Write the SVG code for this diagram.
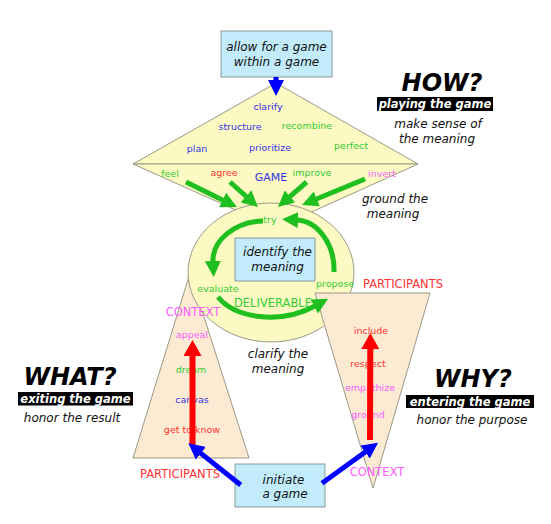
<svg xmlns="http://www.w3.org/2000/svg" width="551" height="524" viewBox="0 0 551 524">
<style>
text{font-family:"DejaVu Sans","Liberation Sans",sans-serif;text-anchor:middle}
.box{fill:#c2ecfb;stroke:#8a9a9a;stroke-width:1}
.shape{fill:#fcf9c2;stroke:#9a9a88;stroke-width:1}
.tri{fill:#fcebd2;stroke:#9a9a88;stroke-width:1}
.it{font-style:italic;font-size:12px;fill:#111}
.s{font-size:9.5px}
.m{font-size:11.5px}
.b{fill:#3333e6}.g{fill:#33cc33}.r{fill:#ff3333}.p{fill:#ff5cff}
.big{font-style:italic;font-weight:bold;font-size:24px;fill:#000}
.tag{font-style:italic;font-weight:bold;font-size:11.5px;fill:#fff}
.ga{fill:none;stroke:#1fbf1f;stroke-width:5;marker-end:url(#hg)}
.ba{fill:none;stroke:#0000ff;stroke-width:5;marker-end:url(#hb)}
.ra{fill:none;stroke:#ff0000;stroke-width:6;marker-end:url(#hr)}
</style>
<defs>
<marker id="hg" markerUnits="userSpaceOnUse" markerWidth="16" markerHeight="16" viewBox="0 0 16 16" refX="1" refY="8" orient="auto"><path d="M0,0 L16,8 L0,16 Z" fill="#1fbf1f"/></marker>
<marker id="hb" markerUnits="userSpaceOnUse" markerWidth="16" markerHeight="16" viewBox="0 0 16 16" refX="1" refY="8" orient="auto"><path d="M0,0 L16,8 L0,16 Z" fill="#0000ff"/></marker>
<marker id="hr" markerUnits="userSpaceOnUse" markerWidth="16" markerHeight="18" viewBox="0 0 16 18" refX="1" refY="9" orient="auto"><path d="M0,0 L16,9 L0,18 Z" fill="#ff0000"/></marker>
</defs>

<g id="game">
<path class="shape" d="M133,164 L276,83 L418,164 Z"/>
<path class="shape" d="M133,164 L276,228 L418,164 Z"/>
<text class="s b" x="268" y="109.5">clarify</text>
<text class="s b" x="240" y="130">structure</text>
<text class="s g" x="307" y="128.7">recombine</text>
<text class="s b" x="197" y="151.7">plan</text>
<text class="s b" x="270" y="150.7">prioritize</text>
<text class="s g" x="351" y="149.4">perfect</text>
<text class="s g" x="170" y="176.7">feel</text>
<text class="s r" x="224" y="176.4">agree</text>
<text class="b" x="271" y="181.2" style="font-size:11px">GAME</text>
<text class="s g" x="312" y="176.4">improve</text>
<text class="s p" x="382" y="177.4">invert</text>
</g>

<g id="what-triangle-shape">
<path class="tri" d="M190,273 L249,458 L133,458 Z"/>
</g>

<g id="deliverable">
<ellipse class="shape" cx="271" cy="272.5" rx="83" ry="69.5"/>
</g>

<g id="what-triangle">
<text class="m p" x="193" y="316.3">CONTEXT</text>
<text class="s p" x="192" y="338.4">appeal</text>
<text class="s g" x="191" y="373.4">dream</text>
<text class="s b" x="192" y="403.4">canvas</text>
<text class="s r" x="192" y="433.4">get to know</text>
<text class="m r" x="180" y="478">PARTICIPANTS</text>
</g>

<g id="why-triangle">
<path class="tri" d="M315,293 L430,293 L373,488 Z"/>
<text class="m r" x="403" y="288">PARTICIPANTS</text>
<text class="s r" x="371" y="334">include</text>
<text class="s r" x="368" y="366.7">respect</text>
<text class="s p" x="370" y="391">empathize</text>
<text class="s p" x="368" y="418.4">ground</text>
<text class="m p" x="377" y="476.3">CONTEXT</text>
</g>

<g id="deliverable-labels">
<text class="s g" x="270" y="223.4">try</text>
<text class="s g" x="218" y="291.7">evaluate</text>
<text class="s g" x="335" y="286.7">propose</text>
<text class="m g" x="273" y="306.7">DELIVERABLE</text>
</g>

<g id="identify">
<rect class="box" x="235" y="238" width="80" height="43"/>
<text class="it" x="277.5" y="256">identify the</text>
<text class="it" x="277.5" y="271">meaning</text>
</g>

<g id="allow">
<rect class="box" x="221" y="31" width="111" height="46"/>
<text class="it" x="276.5" y="51.3">allow for a game</text>
<text class="it" x="276.5" y="66">within a game</text>
</g>

<g id="initiate">
<rect class="box" x="235" y="464" width="90" height="43"/>
<text class="it" x="283.5" y="483.6">initiate</text>
<text class="it" x="285" y="497.6">a game</text>
</g>

<g id="how">
<text class="big" x="442" y="91.4">HOW?</text>
<rect x="377" y="97" width="116" height="14" fill="#000"/>
<text class="tag" x="435" y="108">playing the game</text>
<text class="it" x="438" y="128.3">make sense of</text>
<text class="it" x="437" y="143.3">the meaning</text>
</g>

<g id="what">
<text class="big" x="70" y="385.4">WHAT?</text>
<rect x="18" y="392" width="115" height="13.5" fill="#000"/>
<text class="tag" x="75.5" y="402.8">exiting the game</text>
<text class="it" x="72" y="422">honor the result</text>
</g>

<g id="why">
<text class="big" x="473" y="387">WHY?</text>
<rect x="406" y="395" width="128" height="13" fill="#000"/>
<text class="tag" x="470" y="405.5">entering the game</text>
<text class="it" x="472" y="423.6">honor the purpose</text>
</g>

<g id="notes">
<text class="it" x="395" y="202.6">ground the</text>
<text class="it" x="393" y="217.6">meaning</text>
<text class="it" x="278" y="357.6">clarify the</text>
<text class="it" x="278" y="373.3">meaning</text>
</g>

<g id="connectors">
<path class="ba" d="M276,77 L276,81"/>
<path class="ga" d="M186,182 L223.5,200.4"/>
<path class="ga" d="M230,182 L246.8,197"/>
<path class="ga" d="M306.7,182 L289.3,197.1"/>
<path class="ga" d="M365,179 L315.9,199.3"/>
<path class="ga" d="M334,272 C335,245 318,221 297,220"/>
<path class="ga" d="M263,221 C235,222 212,240 213,262"/>
<path class="ga" d="M218,297 C235,318 280,325 315,306"/>
<path class="ra" d="M192.5,445 L192.5,355"/>
<path class="ra" d="M370,440 L370.3,348"/>
<path class="ba" d="M240.7,485 L200,452.6"/>
<path class="ba" d="M322,483.3 L365.9,451.5"/>
</g>
</svg>
